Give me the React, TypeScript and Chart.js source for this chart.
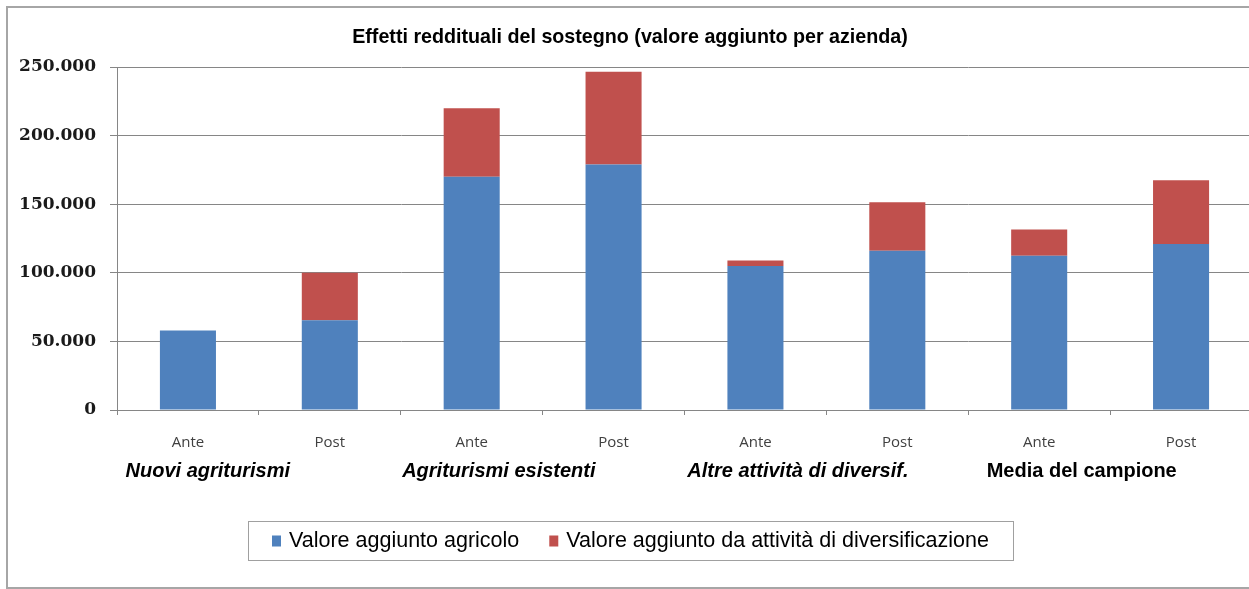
import React, { useEffect, useRef } from "react";
import { Chart, registerables } from "chart.js";

Chart.register(...registerables);

// ---- data ----
const categories = ["Ante", "Post", "Ante", "Post", "Ante", "Post", "Ante", "Post"];
const groupLabels = [
  "Nuovi agriturismi",
  "Agriturismi esistenti",
  "Altre attività di diversif.",
  "Media del campione",
];
const groupItalic = [true, true, true, false];
const seriesNames = [
  "Valore aggiunto agricolo",
  "Valore aggiunto da attività di diversificazione",
];
const valoreAgricolo = [58000, 65500, 170000, 179000, 105000, 116000, 112500, 121000];
const valoreDiversificazione = [0, 34500, 50000, 67500, 4000, 35500, 19000, 46500];
const yTickValues = [0, 50000, 100000, 150000, 200000, 250000];
const chartTitle = "Effetti reddituali del sostegno (valore aggiunto per azienda)";

// ---- layout constants ----
const CANVAS_W = 1244;
const CANVAS_H = 579;
const GROUP_ANCHORS = [-0.44, 1.51, 3.52, 5.63]; // left edge, in category units
const GROUP_BASELINE = 469;
const LEG_TOP = 513;
const LEG_H = 39;
const LEG_CY = 533;

const BLUE = "#4F81BD";
const RED = "#C0504D";
const GRID = "#868686";

const fmt = (v: number) => String(v).replace(/\B(?=(\d{3})+(?!\d))/g, ".");

const decorPlugin = {
  id: "decor",
  afterDraw(chart: any) {
    const ctx = chart.ctx as CanvasRenderingContext2D;
    const xs = chart.scales.x;
    ctx.save();
    ctx.fillStyle = "#000";
    ctx.textAlign = "left";
    ctx.textBaseline = "alphabetic";
    groupLabels.forEach((g, i) => {
      ctx.font = `${groupItalic[i] ? "italic " : ""}bold 20px "Liberation Sans"`;
      ctx.fillText(g, xs.getPixelForValue(GROUP_ANCHORS[i]), GROUP_BASELINE);
    });

    // legend
    ctx.font = '21.5px "Liberation Sans"';
    const ds = chart.data.datasets;
    const sqW = 9, sqH = 11, gap = 8, itemGap = 30, padX = 24;
    const widths = ds.map((d: any) => ctx.measureText(d.label).width);
    const content =
      widths.reduce((a: number, w: number) => a + sqW + gap + w, 0) + itemGap * (ds.length - 1);
    const boxW = content + 2 * padX;
    const left = Math.round(chart.width / 2 - boxW / 2);
    ctx.strokeStyle = "#a0a0a0";
    ctx.lineWidth = 1;
    ctx.strokeRect(left + 0.5, LEG_TOP + 0.5, Math.round(boxW), LEG_H);
    let cur = left + padX;
    ctx.textBaseline = "middle";
    ds.forEach((d: any, i: number) => {
      ctx.fillStyle = d.backgroundColor;
      ctx.fillRect(cur, LEG_CY - sqH / 2, sqW, sqH);
      cur += sqW + gap;
      ctx.fillStyle = "#000";
      ctx.fillText(d.label, cur, LEG_CY);
      cur += widths[i] + itemGap;
    });
    ctx.restore();
  },
};

export default function App() {
  const ref = useRef<HTMLCanvasElement | null>(null);

  useEffect(() => {
    if (!ref.current) return;
    const chart = new Chart(ref.current, {
      type: "bar",
      data: {
        labels: categories,
        datasets: [
          {
            label: seriesNames[0],
            data: valoreAgricolo,
            backgroundColor: BLUE,
            borderWidth: 0,
            barPercentage: 0.395,
            categoryPercentage: 1,
          },
          {
            label: seriesNames[1],
            data: valoreDiversificazione,
            backgroundColor: RED,
            borderWidth: 0,
            barPercentage: 0.395,
            categoryPercentage: 1,
          },
        ],
      },
      options: {
        responsive: false,
        animation: false,
        devicePixelRatio: 1,
        layout: { padding: { left: 0, right: 0, top: 0, bottom: 127 } },
        plugins: {
          legend: { display: false },
          tooltip: { enabled: false },
          title: {
            display: true,
            text: chartTitle,
            color: "#000",
            font: { family: "Liberation Sans", size: 19.7, weight: "bold" },
            padding: { top: 18, bottom: 17.4 },
          },
        },
        scales: {
          x: {
            stacked: true,
            offset: true,
            grid: {
              display: true,
              drawOnChartArea: false,
              drawTicks: true,
              tickLength: 5,
              offset: true,
              color: GRID,
            },
            border: { display: true, color: GRID },
            ticks: {
              color: "#404040",
              font: { family: "Open Sans", size: 15 },
              padding: 19,
              maxRotation: 0,
            },
            afterFit: (s: any) => {
              s.height = 50;
            },
          },
          y: {
            stacked: true,
            min: 0,
            max: 250000,
            afterBuildTicks: (s: any) => {
              s.ticks = yTickValues.map((v) => ({ value: v }));
            },
            grid: { color: GRID, tickLength: 7, drawTicks: true },
            border: { display: true, color: GRID },
            ticks: {
              color: "#1a1a1a",
              font: { family: "DejaVu Serif", size: 17, weight: "bold" },
              padding: 14,
              callback: (v: any) => fmt(Number(v)),
            },
            afterFit: (s: any) => {
              s.width = 109;
            },
          },
        },
      },
      plugins: [decorPlugin],
    });
    return () => chart.destroy();
  }, []);

  return (
    <div style={{ position: "fixed", inset: 0, overflow: "hidden", background: "#fff" }}>
      <div
        style={{
          position: "absolute",
          left: 6,
          top: 6,
          width: CANVAS_W + 4,
          height: CANVAS_H + 4,
          boxSizing: "border-box",
          border: "2px solid #a6a6a6",
          background: "#fff",
        }}
      >
        <canvas
          ref={ref}
          width={CANVAS_W}
          height={CANVAS_H}
          style={{ display: "block", width: CANVAS_W, height: CANVAS_H }}
        />
      </div>
    </div>
  );
}
